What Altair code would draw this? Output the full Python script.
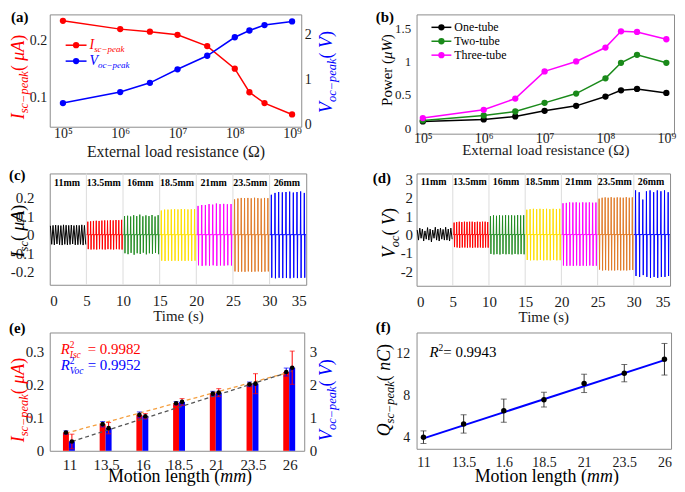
import json
import altair as alt
import pandas as pd

SERIF = "Liberation Serif"

# ---------------- (a) ----------------
resistance = [1e5, 1e6, 3.3e6, 1e7, 3.3e7, 1e8, 1.8e8, 3.3e8, 1e9]
isc_peak = [0.252, 0.228, 0.221, 0.213, 0.186, 0.142, 0.107, 0.094, 0.082]
voc_peak = [0.48, 0.725, 0.93, 1.23, 1.53, 1.94, 2.09, 2.21, 2.29]
res_ticks = [1e5, 1e6, 1e7, 1e8, 1e9]
res_tick_labels = ["10⁵", "10⁶", "10⁷", "10⁸", "10⁹"]

# ---------------- (b) ----------------
power_one = [0.10, 0.13, 0.175, 0.26, 0.335, 0.475, 0.57, 0.59, 0.53]
power_two = [0.115, 0.19, 0.25, 0.38, 0.52, 0.75, 0.985, 1.105, 0.985]
power_three = [0.15, 0.275, 0.445, 0.855, 1.005, 1.215, 1.46, 1.45, 1.34]
tube_names = ["One-tube", "Two-tube", "Three-tube"]
tube_colors = ["#000000", "#1a8a1a", "#ff00ff"]

# ---------------- (c), (d) ----------------
seg_names = ["11mm", "13.5mm", "16mm", "18.5mm", "21mm", "23.5mm", "26mm"]
seg_colors = ["#000000", "#ff0000", "#228b22", "#ffe000", "#ff00ff", "#e07b28", "#0000ff"]
seg_start = [0, 5, 10, 15, 20, 25, 30]
seg_len = 5
time_ticks = [0, 5, 10, 15, 20, 25, 30, 35]

isc_pos = [
    [0.048, 0.05, 0.052, 0.05, 0.049, 0.053, 0.051, 0.05, 0.052, 0.049, 0.051, 0.05, 0.053, 0.05],
    [0.07, 0.072, 0.074, 0.075, 0.074, 0.076, 0.077, 0.076, 0.078, 0.077, 0.079, 0.078, 0.08],
    [0.1, 0.102, 0.098, 0.105, 0.1, 0.108, 0.099, 0.104, 0.1, 0.106, 0.098, 0.105],
    [0.13, 0.135, 0.135, 0.136, 0.137, 0.136, 0.138, 0.137, 0.136, 0.137, 0.138],
    [0.155, 0.16, 0.16, 0.165, 0.162, 0.168, 0.165, 0.166, 0.164, 0.165],
    [0.19, 0.195, 0.198, 0.197, 0.198, 0.196, 0.199, 0.197, 0.195, 0.198, 0.197],
    [0.215, 0.225, 0.23, 0.228, 0.23, 0.232, 0.227, 0.23, 0.233, 0.225],
]
isc_neg = [
    [-0.052, -0.055, -0.05, -0.054, -0.056, -0.052, -0.055, -0.053, -0.05, -0.055, -0.054, -0.052, -0.056, -0.053],
    [-0.078, -0.08, -0.079, -0.08, -0.078, -0.079, -0.08, -0.078, -0.079, -0.08, -0.078, -0.079, -0.08],
    [-0.1, -0.105, -0.098, -0.108, -0.1, -0.104, -0.097, -0.106, -0.1, -0.103, -0.098, -0.105],
    [-0.14, -0.142, -0.14, -0.141, -0.14, -0.142, -0.14, -0.141, -0.14, -0.142, -0.14],
    [-0.165, -0.168, -0.166, -0.167, -0.165, -0.168, -0.166, -0.167, -0.165, -0.166],
    [-0.198, -0.2, -0.199, -0.2, -0.198, -0.2, -0.199, -0.198, -0.2, -0.199, -0.198],
    [-0.232, -0.235, -0.232, -0.234, -0.233, -0.235, -0.232, -0.234, -0.233, -0.232],
]
voc_pos = [
    [0.25, 0.35, 0.3, 0.2, 0.38, 0.3, 0.25, 0.4, 0.3, 0.35, 0.28, 0.4, 0.3, 0.35],
    [0.65, 0.68, 0.7, 0.68, 0.7, 0.69, 0.7, 0.7, 0.68, 0.7, 0.69, 0.7, 0.7, 0.68],
    [1.0, 1.05, 1.02, 1.05, 1.03, 1.06, 1.04, 1.05, 1.03, 1.06, 1.04, 1.05],
    [1.35, 1.38, 1.4, 1.38, 1.4, 1.39, 1.4, 1.38, 1.4, 1.39, 1.4],
    [1.7, 1.72, 1.75, 1.74, 1.75, 1.73, 1.75, 1.74, 1.75, 1.73, 1.74],
    [1.95, 2.0, 2.02, 2.0, 2.03, 2.0, 2.02, 2.01, 2.0, 2.03, 2.0, 2.02],
    [2.4, 2.3, 1.9, 2.35, 2.4, 2.3, 2.4, 2.35, 2.4, 2.3],
]
voc_neg = [
    [-0.3, -0.2, -0.35, -0.25, -0.3, -0.4, -0.2, -0.3, -0.35, -0.25, -0.3, -0.3, -0.35, -0.25],
    [-0.68, -0.7, -0.72, -0.7, -0.7, -0.71, -0.7, -0.72, -0.7, -0.71, -0.7, -0.72, -0.7, -0.71],
    [-1.05, -1.08, -1.06, -1.08, -1.05, -1.07, -1.06, -1.08, -1.05, -1.07, -1.06, -1.07],
    [-1.38, -1.4, -1.39, -1.4, -1.38, -1.4, -1.39, -1.4, -1.38, -1.4, -1.39],
    [-1.68, -1.7, -1.69, -1.7, -1.68, -1.7, -1.69, -1.7, -1.68, -1.7, -1.69],
    [-1.9, -1.95, -1.93, -1.95, -1.94, -1.95, -1.93, -1.95, -1.94, -1.95, -1.93, -1.92],
    [-2.25, -2.3, -2.2, -2.3, -2.35, -2.3, -2.35, -2.3, -2.3, -2.25],
]

# ---------------- (e) ----------------
motion_len = [11, 13.5, 16, 18.5, 21, 23.5, 26]
isc_bar = [0.055, 0.08, 0.108, 0.143, 0.172, 0.2, 0.237]
isc_err = [0.005, 0.008, 0.009, 0.005, 0.007, 0.007, 0.012]
voc_bar = [0.28, 0.68, 1.04, 1.47, 1.75, 2.02, 2.5]
voc_err = [0.22, 0.17, 0.08, 0.1, 0.12, 0.3, 0.5]
fit_x = [11, 26]
isc_fit = [0.053, 0.234]
voc_fit = [0.28, 2.40]

# ---------------- (f) ----------------
q_peak = [4.06, 5.32, 6.58, 7.62, 9.17, 10.14, 11.46]
q_err = [0.6, 0.87, 1.1, 0.7, 0.87, 0.82, 1.5]
q_fit = [3.95, 11.38]
f_tick_labels = ["11", "13.5", "1.6", "18.5", "21", "23.5", "26"]

# ---------------- text helpers ----------------
RW = {' ': .25, '(': .333, ')': .333, '.': .25, '-': .333, '=': .564, '−': .564,
      'A': .722, 'C': .667, 'E': .611, 'I': .333, 'M': .889, 'O': .722, 'P': .556,
      'Q': .722, 'R': .667, 'T': .611, 'V': .722, 'W': .944, 'Ω': .768, 'μ': .5,
      'a': .444, 'b': .5, 'c': .444, 'd': .5, 'e': .444, 'g': .5, 'h': .5, 'i': .278,
      'k': .5, 'l': .278, 'm': .778, 'n': .5, 'o': .5, 'p': .5, 'r': .333, 's': .389,
      't': .278, 'u': .5, 'w': .722}
IW = {' ': .25, '(': .333, ')': .333, '−': .675, 'A': .611, 'C': .667, 'I': .333,
      'Q': .722, 'R': .611, 'V': .611, 'W': .833, 'a': .5, 'c': .444, 'e': .444,
      'k': .444, 'm': .722, 'n': .5, 'o': .5, 'p': .5, 's': .389, 'μ': .5}


def tw(s, size, italic):
    table = IW if italic else RW
    return size * sum(table.get(c, .5) for c in s)


def one():
    return alt.Data(values=[{"k": 0}])


def txt(s, x, y, size, color="black", italic=False, bold=False, angle=0,
        align="left", baseline="alphabetic"):
    kw = dict(font=SERIF, fontSize=size, color=color, align=align, baseline=baseline)
    if italic:
        kw["fontStyle"] = "italic"
    if bold:
        kw["fontWeight"] = "bold"
    if angle:
        kw["angle"] = angle
    return alt.Chart(one()).mark_text(**kw).encode(
        x=alt.value(round(float(x), 2)), y=alt.value(round(float(y), 2)), text=alt.value(s))


def rich(pieces, x, y, angle=0, anchor="middle", color="black"):
    advs = [p[4] if len(p) > 4 else tw(p[0], p[1], p[2]) for p in pieces]
    pos = -sum(advs) / 2 if anchor == "middle" else 0.0
    out = []
    for p, a in zip(pieces, advs):
        s, size, it, shift = p[:4]
        if angle == 270:
            px, py = x + shift, y - pos
        else:
            px, py = x + pos, y + shift
        out.append(txt(s, px, py, size, color, italic=it, angle=angle))
        pos += a
    return out


def ytitle(main, sub, unit, x, y, color="black", size=18, sub_size=12.5):
    p = [(main, size, True, 0)]
    if sub:
        p.append((sub, sub_size, True, 4))
    p += [(" (", size, False, 0), (unit, size, True, 0), (")", size, False, 0)]
    return rich(p, x, y, angle=270, color=color)


def legend_item(x1, x2, y, color):
    rule = alt.Chart(one()).mark_rule(color=color, strokeWidth=1.5).encode(
        x=alt.value(x1), x2=alt.value(x2), y=alt.value(y))
    pt = alt.Chart(one()).mark_point(filled=True, color=color, size=40, opacity=1).encode(
        x=alt.value((x1 + x2) / 2), y=alt.value(y))
    return [rule, pt]


def anchor(x, y1, y2):
    # invisible vertical rule fixing the figure's top-left extent
    return alt.Chart(one()).mark_rule(strokeOpacity=0, strokeWidth=0.1).encode(
        x=alt.value(x), y=alt.value(y1), y2=alt.value(y2))


res_expr = json.dumps(res_tick_labels, ensure_ascii=False) + "[round(log(datum.value)/LN10) - 5]"
minus_expr = "replace(format(datum.value, '~g'), '−', '-')"

# ---------------- panel (a) ----------------
a_df = pd.DataFrame({"R": resistance, "I": isc_peak, "V": voc_peak})
xa = alt.X("R:Q", scale=alt.Scale(type="log", domain=[10 ** 4.77, 10 ** 9.16], nice=False),
           axis=alt.Axis(values=res_ticks, labelExpr=res_expr, title="External load resistance (Ω)",
                         labelFontSize=14, titleFontSize=16, labelPadding=0, titlePadding=3))
a_i = alt.Chart(a_df).mark_line(color="#ff0000", strokeWidth=1.5,
                                point=alt.OverlayMarkDef(filled=True, size=40, color="#ff0000")).encode(
    x=xa,
    y=alt.Y("I:Q", scale=alt.Scale(type="log", domain=[0.0708, 0.272], nice=False),
            axis=alt.Axis(values=[0.1, 0.2], format=".1f", title=None, labelFontSize=14, labelPadding=3)))
a_v = alt.Chart(a_df).mark_line(color="#0000ff", strokeWidth=1.5,
                                point=alt.OverlayMarkDef(filled=True, size=40, color="#0000ff")).encode(
    x=xa,
    y=alt.Y("V:Q", scale=alt.Scale(domain=[-0.044, 2.447], nice=False, zero=False),
            axis=alt.Axis(orient="right", values=[0, 1, 2], format="d", title=None,
                          labelFontSize=14, labelPadding=3)))
a_layers = [a_i, a_v, anchor(-41, -4, 10), txt("(a)", -39, 8, 15, bold=True)]
a_layers += ytitle("I", "sc−peak", "μA", -26, 63, color="#ff0000")
a_layers += ytitle("V", "oc−peak", "V", 284, 58, color="#0000ff")
a_layers += legend_item(16, 37, 31, "#ff0000")
a_layers += rich([("I", 14, True, 0), ("sc−peak", 9, True, 3)], 40, 35, anchor="start", color="#ff0000")
a_layers += legend_item(16, 37, 47, "#0000ff")
a_layers += rich([("V", 14, True, 0), ("oc−peak", 9, True, 3)], 40, 51, anchor="start", color="#0000ff")
panel_a = alt.layer(*a_layers).resolve_scale(y="independent").properties(width=253, height=113)

# ---------------- panel (b) ----------------
xb = alt.X("R:Q", scale=alt.Scale(type="log", domain=[10 ** 4.897, 10 ** 9.126], nice=False),
           axis=alt.Axis(values=res_ticks, labelExpr=res_expr, title="External load resistance (Ω)",
                         labelFontSize=14, titleFontSize=15, labelPadding=-2, titlePadding=-3))
yb = alt.Y("P:Q", scale=alt.Scale(domain=[-0.085, 1.715], nice=False, zero=False),
           axis=alt.Axis(values=[0, 0.5, 1, 1.5], labelExpr="datum.value + ''", title=None,
                         labelFontSize=13, labelPadding=6))
b_layers = []
for name, vals, col in zip(tube_names, [power_one, power_two, power_three], tube_colors):
    df = pd.DataFrame({"R": resistance, "P": vals})
    b_layers.append(alt.Chart(df).mark_line(
        color=col, strokeWidth=1.5, point=alt.OverlayMarkDef(filled=True, size=40, color=col)).encode(x=xb, y=yb))
b_layers.append(txt("(b)", -41, 8, 15, bold=True))
b_layers += rich([("Power (", 15, False, 0), ("μW", 15, True, 0), (")", 15, False, 0)], -25, 56, angle=270)
for i, (name, col) in enumerate(zip(tube_names, tube_colors)):
    yy = 13 + 14 * i
    b_layers += legend_item(15, 35, yy, col)
    b_layers.append(txt(name, 38, yy + 4, 12))
panel_b = alt.layer(*b_layers).properties(width=259, height=120)


# ---------------- waveform panels ----------------
def wave_df(pos_lists, neg_lists):
    rows = []
    for k, name in enumerate(seg_names):
        pos, neg = pos_lists[k], neg_lists[k]
        n = len(pos)
        per = seg_len / n
        t_start = seg_start[k]
        if k == 0:
            for i in range(n):
                t0 = t_start + i * per
                rows.append((t0 + 0.25 * per, pos[i], name))
                rows.append((t0 + 0.75 * per, neg[i], name))
        else:
            rows.append((t_start + 0.02, 0.0, name))
            for i in range(n):
                t0 = t_start + (i + 0.4) * per
                rows += [(t0, 0.0, name), (t0 + 0.04, pos[i], name),
                         (t0 + 0.10, neg[i], name), (t0 + 0.14, 0.0, name)]
            rows.append((t_start + seg_len - 0.02, 0.0, name))
    return pd.DataFrame(rows, columns=["t", "v", "seg"])


def wave_panel(df, ydom, yticks, label_pad, lab_y, xlab_pad):
    xw = alt.X("t:Q", scale=alt.Scale(domain=[0, 35], nice=False, zero=False),
               axis=alt.Axis(values=time_ticks, title="Time (s)", labelFontSize=15, titleFontSize=15,
                             labelPadding=xlab_pad, titlePadding=0))
    sep = alt.Chart(pd.DataFrame({"t": seg_start[1:]})).mark_rule(color="#dcdcdc", strokeWidth=1).encode(x=xw)
    line = alt.Chart(df).mark_line(strokeWidth=1).encode(
        x=xw,
        y=alt.Y("v:Q", scale=alt.Scale(domain=ydom, nice=False, zero=False),
                axis=alt.Axis(values=yticks, labelExpr=minus_expr, title=None, labelFontSize=15,
                              labelPadding=label_pad)),
        color=alt.Color("seg:N", scale=alt.Scale(domain=seg_names, range=seg_colors), legend=None))
    lab = alt.Chart(pd.DataFrame({"t": [s + seg_len / 2 for s in seg_start], "name": seg_names})).mark_text(
        font=SERIF, fontSize=10, fontWeight="bold", color="black", baseline="alphabetic", dx=-1).encode(
        x=xw, y=alt.value(lab_y), text="name:N")
    return [sep, line, lab]


c_layers = wave_panel(wave_df(isc_pos, isc_neg), [-0.27, 0.33], [-0.2, -0.1, 0, 0.1, 0.2], 16, 13, 9)
c_layers += [txt("(c)", -41, 7, 15, bold=True)]
c_layers += ytitle("I", "sc", "μA", -26, 58)
panel_c = alt.layer(*c_layers).properties(width=258, height=112)

d_layers = wave_panel(wave_df(voc_pos, voc_neg), [-2.78, 3.32], [-2, -1, 0, 1, 2, 3], 4, 12, 9)
d_layers.append(txt("(d)", -44, 10, 15, bold=True))
d_layers += ytitle("V", "oc", "V", -22, 60)
panel_d = alt.layer(*d_layers).properties(width=255, height=113)

# ---------------- panel (e) ----------------
e_df = pd.DataFrame({"L": motion_len, "I": isc_bar, "V": voc_bar})
e_df["Ilo"] = [a - b for a, b in zip(isc_bar, isc_err)]
e_df["Ihi"] = [a + b for a, b in zip(isc_bar, isc_err)]
e_df["Vlo"] = [a - b for a, b in zip(voc_bar, voc_err)]
e_df["Vhi"] = [a + b for a, b in zip(voc_bar, voc_err)]
fit_df = pd.DataFrame({"L": fit_x, "I": isc_fit, "V": voc_fit})

xe = alt.X("L:Q", scale=alt.Scale(domain=[10.0, 26.65], nice=False, zero=False),
           axis=alt.Axis(values=motion_len, labelExpr="datum.value + ''", title=None,
                         labelFontSize=15, labelPadding=7))
sI = alt.Scale(domain=[0, 0.356], nice=False, zero=False)
sV = alt.Scale(domain=[0, 3.56], nice=False, zero=False)
RED, BLUE = "#ff0000", "#0000ff"
OFF_I, OFF_V = -3.5, 2.5


def yI(f):
    return alt.Y(f + ":Q", scale=sI, axis=None)


def yV(f):
    return alt.Y(f + ":Q", scale=sV, axis=None)


e_bar_i = alt.Chart(e_df).mark_bar(color=RED, width=6, xOffset=OFF_I).encode(
    x=xe, y=alt.Y("I:Q", scale=sI, axis=alt.Axis(values=[0, 0.1, 0.2, 0.3], labelExpr="datum.value + ''",
                                                 title=None, labelFontSize=15, labelPadding=6)))
e_bar_v = alt.Chart(e_df).mark_bar(color=BLUE, width=6, xOffset=OFF_V).encode(
    x=xe, y=alt.Y("V:Q", scale=sV, axis=alt.Axis(orient="right", values=[0, 1, 2, 3], format="d", title=None,
                                                 labelFontSize=15, labelPadding=5)))
e_fit_i = alt.Chart(fit_df).mark_line(color="#f5a040", strokeWidth=1.3, strokeDash=[4, 3], xOffset=OFF_I).encode(
    x=xe, y=yI("I"))
e_fit_v = alt.Chart(fit_df).mark_line(color="#555555", strokeWidth=1.3, strokeDash=[4, 3], xOffset=OFF_V).encode(
    x=xe, y=yV("V"))
e_err_i = alt.Chart(e_df).mark_rule(color=BLUE, strokeWidth=1, xOffset=OFF_I).encode(
    x=xe, y=yI("Ilo"), y2="Ihi:Q")
e_cap_i1 = alt.Chart(e_df).mark_tick(color=BLUE, orient="horizontal", size=5, thickness=1, xOffset=OFF_I).encode(
    x=xe, y=yI("Ilo"))
e_cap_i2 = alt.Chart(e_df).mark_tick(color=BLUE, orient="horizontal", size=5, thickness=1, xOffset=OFF_I).encode(
    x=xe, y=yI("Ihi"))
e_err_v = alt.Chart(e_df).mark_rule(color=RED, strokeWidth=1, xOffset=OFF_V).encode(
    x=xe, y=yV("Vlo"), y2="Vhi:Q")
e_cap_v1 = alt.Chart(e_df).mark_tick(color=RED, orient="horizontal", size=5, thickness=1, xOffset=OFF_V).encode(
    x=xe, y=yV("Vlo"))
e_cap_v2 = alt.Chart(e_df).mark_tick(color=RED, orient="horizontal", size=5, thickness=1, xOffset=OFF_V).encode(
    x=xe, y=yV("Vhi"))
e_pt_i = alt.Chart(e_df).mark_point(filled=True, color="black", size=22, opacity=1, xOffset=OFF_I).encode(
    x=xe, y=yI("I"))
e_pt_v = alt.Chart(e_df).mark_point(filled=True, color="black", size=22, opacity=1, xOffset=OFF_V).encode(
    x=xe, y=yV("V"))
e_layers = [e_bar_i, e_bar_v, e_fit_i, e_fit_v, e_err_i, e_cap_i1, e_cap_i2, e_err_v, e_cap_v1, e_cap_v2,
            e_pt_i, e_pt_v, txt("(e)", -41, 1, 15, bold=True)]
e_layers += ytitle("I", "sc−peak", "μA", -26, 68, color=RED)
e_layers += ytitle("V", "oc−peak", "V", 284, 68, color=BLUE)
e_layers += rich([("R", 15, True, 0), ("2", 9.5, False, -6, 0), ("Isc", 9.5, True, 4, 18),
                  (" = 0.9982", 15, False, 0)], 11, 22, anchor="start", color=RED)
e_layers += rich([("R", 15, True, 0), ("2", 9.5, False, -6, 0), ("Voc", 9.5, True, 4, 18),
                  (" = 0.9952", 15, False, 0)], 11, 38, anchor="start", color=BLUE)
e_layers += rich([("Motion length (", 18, False, 0), ("mm", 18, True, 0), (")", 18, False, 0)], 131, 150)
panel_e = alt.layer(*e_layers).resolve_scale(y="independent").properties(width=256, height=119)

# ---------------- panel (f) ----------------
f_df = pd.DataFrame({"L": motion_len, "Q": q_peak})
f_df["lo"] = [a - b for a, b in zip(q_peak, q_err)]
f_df["hi"] = [a + b for a, b in zip(q_peak, q_err)]
ffit_df = pd.DataFrame({"L": fit_x, "Q": q_fit})
f_expr = json.dumps(f_tick_labels) + "[round((datum.value - 11) / 2.5)]"
xf = alt.X("L:Q", scale=alt.Scale(domain=[10.57, 26.41], nice=False, zero=False),
           axis=alt.Axis(values=motion_len, labelExpr=f_expr, title=None, labelFontSize=14, labelPadding=7))
sQ = alt.Scale(domain=[2.96, 14.0], nice=False, zero=False)
f_err = alt.Chart(f_df).mark_rule(color="#333333", strokeWidth=1).encode(
    x=xf, y=alt.Y("lo:Q", scale=sQ, axis=alt.Axis(values=[4, 6, 8, 10, 12], format="d", title=None,
                                                  labelFontSize=14, labelPadding=7)), y2="hi:Q")
f_cap1 = alt.Chart(f_df).mark_tick(color="#333333", orient="horizontal", size=6, thickness=1).encode(
    x=xf, y=alt.Y("lo:Q", scale=sQ))
f_cap2 = alt.Chart(f_df).mark_tick(color="#333333", orient="horizontal", size=6, thickness=1).encode(
    x=xf, y=alt.Y("hi:Q", scale=sQ))
f_fit = alt.Chart(ffit_df).mark_line(color="#0000ff", strokeWidth=2).encode(x=xf, y=alt.Y("Q:Q", scale=sQ))
f_pt = alt.Chart(f_df).mark_point(filled=True, color="black", size=30, opacity=1).encode(
    x=xf, y=alt.Y("Q:Q", scale=sQ))
f_layers = [f_err, f_cap1, f_cap2, f_fit, f_pt, txt("(f)", -41, -1, 15, bold=True)]
f_layers += ytitle("Q", "sc−peak", "nC", -27, 58)
f_layers += rich([("R", 15, True, 0), ("2", 9.5, False, -6), (" = 0.9943", 15, False, 0)], 13, 25,
                 anchor="start")
f_layers += rich([("Motion length (", 18, False, 0), ("mm", 18, True, 0), (")", 18, False, 0)], 131, 150)
panel_f = alt.layer(*f_layers).properties(width=256, height=117)

# ---------------- layout: 2-column grid, plot areas placed flush ----------------
chart = alt.concat(
    panel_a, panel_b, panel_c, panel_d, panel_e, panel_f,
    columns=2, bounds="flush", align="all", spacing={"row": 40, "column": 110}
).properties(
    padding={"left": 0, "top": 0, "right": 0, "bottom": 0}
).configure_axis(
    labelFont=SERIF, titleFont=SERIF, grid=False, domain=False, ticks=False,
    labelColor="#1a1a1a", titleColor="#1a1a1a", titleFontWeight="normal"
).configure_view(stroke="#8c8c8c", strokeWidth=1)

chart.save("out.html", embed_options={"renderer": "svg", "actions": False})
